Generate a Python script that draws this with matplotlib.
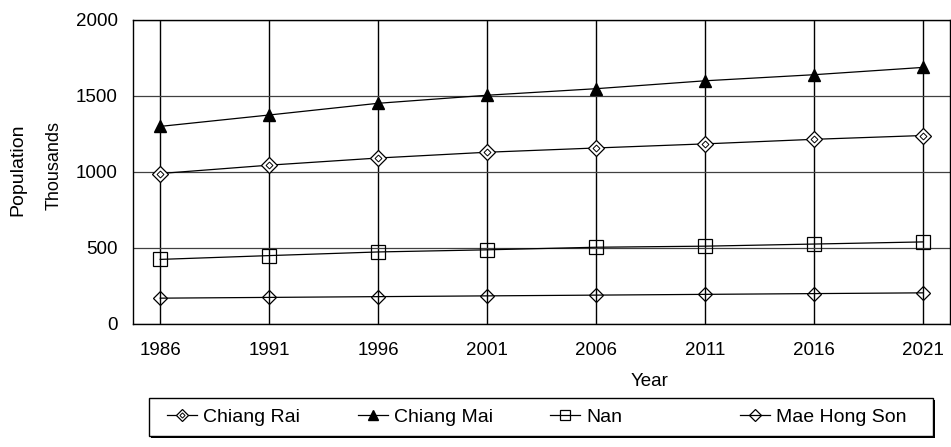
import matplotlib.pyplot as plt
from matplotlib.patches import Rectangle
from matplotlib.legend_handler import HandlerTuple

plt.rcParams['font.family'] = ['Liberation Sans', 'DejaVu Sans']

# Population data (thousands)
years = [1986, 1991, 1996, 2001, 2006, 2011, 2016, 2021]
chiang_rai = [990, 1045, 1092, 1130, 1158, 1185, 1215, 1240]
chiang_mai = [1300, 1375, 1452, 1505, 1548, 1600, 1640, 1688]
nan = [425, 450, 474, 488, 505, 512, 526, 540]
mae_hong_son = [170, 175, 180, 185, 190, 195, 200, 205]
series_names = ["Chiang Rai", "Chiang Mai", "Nan", "Mae Hong Son"]

W, H = 951, 447
fig = plt.figure(figsize=(W / 100, H / 100), dpi=100)
ax = fig.add_axes([133 / W, 1 - 324 / H, 817 / W, 304 / H])

lw = 0.9
# Chiang Rai: hollow diamond with a small inner diamond
cr_outer, = ax.plot(years, chiang_rai, color="black", lw=lw, marker="D",
                    markersize=8, markerfacecolor="white", markeredgecolor="black",
                    markeredgewidth=0.9, zorder=3)
cr_inner, = ax.plot(years, chiang_rai, ls="none", marker="D", markersize=3.5,
                    markerfacecolor="white", markeredgecolor="black",
                    markeredgewidth=0.7, zorder=4)
cm, = ax.plot(years, chiang_mai, color="black", lw=lw, marker="^",
              markersize=9, markerfacecolor="black", markeredgecolor="black", zorder=3)
nn, = ax.plot(years, nan, color="black", lw=lw, marker="s", markersize=9.5,
              markerfacecolor="none", markeredgecolor="black",
              markeredgewidth=0.9, zorder=3)
mhs, = ax.plot(years, mae_hong_son, color="black", lw=lw, marker="D",
               markersize=7.5, markerfacecolor="none", markeredgecolor="black",
               markeredgewidth=0.9, zorder=3)

ax.set_xlim(1984.75, 2022.25)
ax.set_ylim(0, 2000)
ax.set_xticks(years)
ax.set_yticks([0, 500, 1000, 1500, 2000])
ax.tick_params(length=0, labelsize=13.5)
ax.tick_params(axis="x", pad=13)
ax.tick_params(axis="y", pad=11)
ax.xaxis.grid(True, color="black", lw=1.0)
ax.yaxis.grid(True, color="0.25", lw=0.9)
for s in ax.spines.values():
    s.set_linewidth(1.0)

ax.set_xlabel("Year", fontsize=13.5)
ax.xaxis.set_label_coords((650 - 133) / 817, -(381 - 324) / 304)
ax.xaxis.label.set_va("center")
fig.text(18 / W, 1 - 170 / H, "Population", rotation=90,
         ha="center", va="center", fontsize=14)
fig.text(54 / W, 1 - 166 / H, "Thousands", rotation=90,
         ha="center", va="center", fontsize=13)

# legend box with a slight drop shadow, entries placed like the original
fig.patches.append(Rectangle((151 / W, 1 - 438 / H), 784 / W, 38 / H,
                             transform=fig.transFigure, facecolor="black",
                             edgecolor="black", lw=0, zorder=1))
fig.patches.append(Rectangle((149 / W, 1 - 436 / H), 784 / W, 38 / H,
                             transform=fig.transFigure, facecolor="white",
                             edgecolor="black", lw=1.0, zorder=2))

handles = [(cr_outer, cr_inner), cm, nn, mhs]
entry_x = [167, 358, 550, 740]
for h, name, x0 in zip(handles, series_names, entry_x):
    lg = fig.legend([h], [name], handler_map={tuple: HandlerTuple(ndivide=1)},
                    loc="center left", bbox_to_anchor=(x0 / W, 1 - 417 / H),
                    frameon=False, fontsize=14, handlelength=1.55,
                    handletextpad=0.3, borderpad=0, borderaxespad=0,
                    markerscale=0.75)
    lg.set_zorder(3)

plt.savefig("out.png", dpi=100)
